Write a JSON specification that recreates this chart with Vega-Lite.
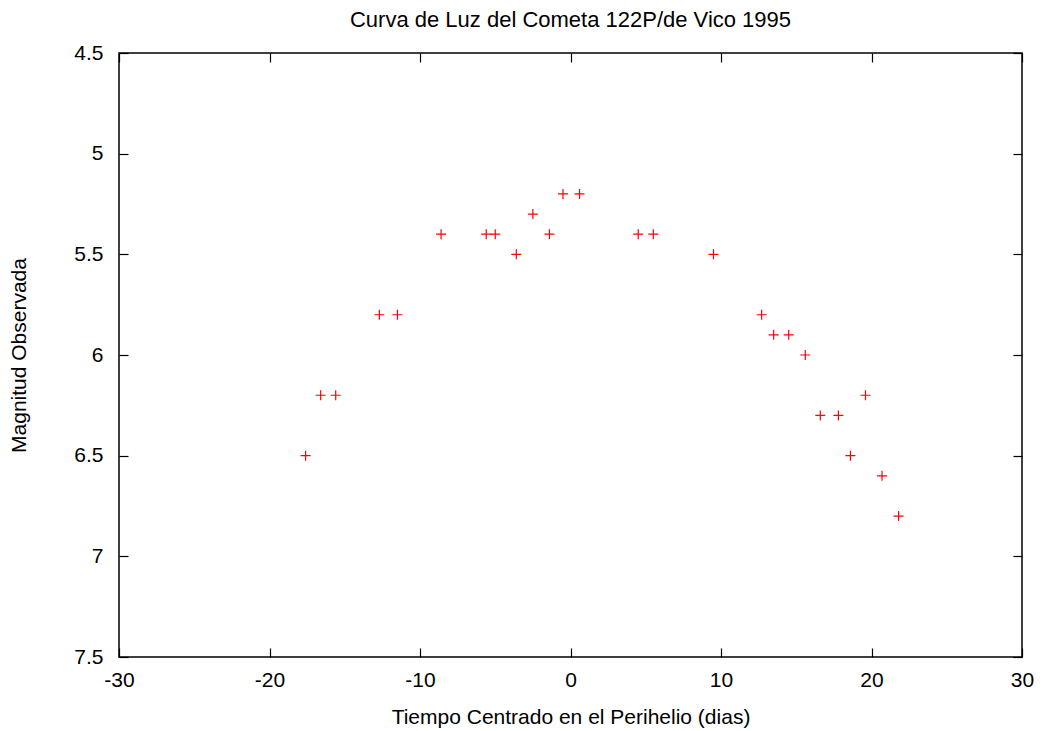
{
  "$schema": "https://vega.github.io/schema/vega-lite/v6.json",
  "width": 903,
  "height": 604,
  "autosize": {"type": "none"},
  "padding": {"left": 119, "top": 53, "right": 29, "bottom": 74},
  "background": "white",
  "title": {
    "text": "Curva de Luz del Cometa 122P/de Vico 1995",
    "font": "Liberation Sans",
    "fontSize": 22,
    "fontWeight": "normal",
    "color": "black",
    "anchor": "middle",
    "offset": 10
  },
  "config": {
    "view": {"stroke": "black", "strokeWidth": 1.5},
    "axis": {
      "grid": false,
      "domain": false,
      "tickColor": "black",
      "tickWidth": 1.2,
      "tickSize": -9,
      "labelFlush": false,
      "labelOverlap": false,
      "labelFont": "Liberation Sans",
      "labelFontSize": 21,
      "labelColor": "black",
      "titleFont": "Liberation Sans",
      "titleFontSize": 21,
      "titleFontWeight": "normal",
      "titleColor": "black"
    }
  },
  "data": {
    "values": [
      {"t": -17.6, "m": 6.5},
      {"t": -16.6, "m": 6.2},
      {"t": -15.6, "m": 6.2},
      {"t": -12.7, "m": 5.8},
      {"t": -11.5, "m": 5.8},
      {"t": -8.6, "m": 5.4},
      {"t": -5.6, "m": 5.4},
      {"t": -5.0, "m": 5.4},
      {"t": -3.6, "m": 5.5},
      {"t": -2.5, "m": 5.3},
      {"t": -1.4, "m": 5.4},
      {"t": -0.5, "m": 5.2},
      {"t": 0.6, "m": 5.2},
      {"t": 4.5, "m": 5.4},
      {"t": 5.5, "m": 5.4},
      {"t": 9.5, "m": 5.5},
      {"t": 12.7, "m": 5.8},
      {"t": 13.5, "m": 5.9},
      {"t": 14.5, "m": 5.9},
      {"t": 15.6, "m": 6.0},
      {"t": 16.6, "m": 6.3},
      {"t": 17.8, "m": 6.3},
      {"t": 18.6, "m": 6.5},
      {"t": 19.6, "m": 6.2},
      {"t": 20.7, "m": 6.6},
      {"t": 21.8, "m": 6.8}
    ]
  },
  "layer": [
    {
      "mark": {"type": "point", "shape": "M-1,0H1M0,-1V1", "filled": false, "stroke": "#ff0000", "strokeWidth": 1.2, "size": 100, "opacity": 1},
      "encoding": {
        "x": {
          "field": "t", "type": "quantitative",
          "scale": {"domain": [-30, 30], "nice": false, "zero": false},
          "axis": {"orient": "bottom", "values": [-30, -20, -10, 0, 10, 20, 30], "labelExpr": "'' + datum.value", "labelPadding": 21, "title": "Tiempo Centrado en el Perihelio (dias)", "titlePadding": 16}
        },
        "y": {
          "field": "m", "type": "quantitative",
          "scale": {"domain": [4.5, 7.5], "reverse": true, "nice": false, "zero": false},
          "axis": {"orient": "left", "values": [4.5, 5, 5.5, 6, 6.5, 7, 7.5], "labelExpr": "'' + datum.value", "labelPadding": 25, "title": "Magnitud Observada", "titlePadding": 44}
        }
      }
    },
    {
      "mark": {"type": "point", "opacity": 0},
      "encoding": {
        "x": {
          "field": "t", "type": "quantitative",
          "axis": {"orient": "top", "values": [-30, -20, -10, 0, 10, 20, 30], "labels": false, "title": null}
        },
        "y": {
          "field": "m", "type": "quantitative",
          "axis": {"orient": "right", "values": [4.5, 5, 5.5, 6, 6.5, 7, 7.5], "labels": false, "title": null}
        }
      }
    }
  ],
  "resolve": {"axis": {"x": "independent", "y": "independent"}}
}
